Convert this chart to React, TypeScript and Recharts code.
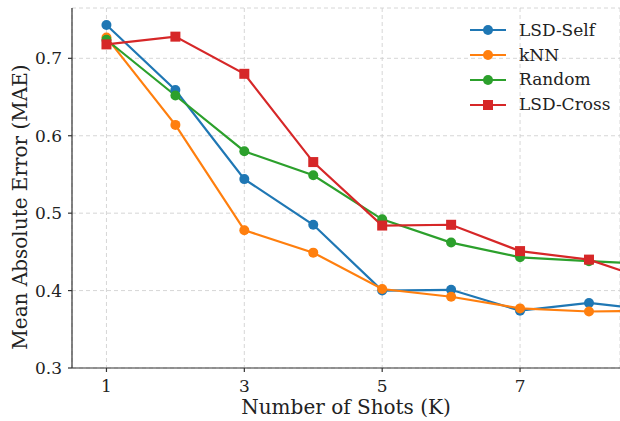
import { LineChart, Line, XAxis, YAxis, CartesianGrid } from "recharts";

const shots = [1, 2, 3, 4, 5, 6, 7, 8, 9];
const lsdSelf = [0.743, 0.659, 0.544, 0.485, 0.4, 0.401, 0.374, 0.384, 0.374];
const knn = [0.727, 0.614, 0.478, 0.449, 0.402, 0.392, 0.377, 0.373, 0.374];
const random = [0.724, 0.652, 0.58, 0.549, 0.492, 0.462, 0.443, 0.438, 0.434];
const lsdCross = [0.718, 0.728, 0.68, 0.566, 0.484, 0.485, 0.451, 0.44, 0.41];

const xTicks = [1, 3, 5, 7];
const yTicks = [0.3, 0.4, 0.5, 0.6, 0.7];

const FONT = "'DejaVu Serif', serif";

const series = [
  { key: "lsdSelf", name: "LSD-Self", color: "#1f77b4", square: false },
  { key: "knn", name: "kNN", color: "#ff7f0e", square: false },
  { key: "random", name: "Random", color: "#2ca02c", square: false },
  { key: "lsdCross", name: "LSD-Cross", color: "#d62728", square: true },
];

const data = shots.map((k, i) => ({
  k,
  lsdSelf: lsdSelf[i],
  knn: knn[i],
  random: random[i],
  lsdCross: lsdCross[i],
}));

function Marker(props: any) {
  const { cx, cy, square, color } = props;
  if (cx == null || cy == null) return null;
  if (square) {
    return <rect x={cx - 5} y={cy - 5} width={10} height={10} fill={color} />;
  }
  return <circle cx={cx} cy={cy} r={5} fill={color} />;
}

function LegendBox() {
  return (
    <div
      style={{
        position: "absolute",
        top: 18,
        left: 470,
        fontFamily: FONT,
        fontSize: 17,
        color: "#222",
        lineHeight: 1,
      }}
    >
      {series.map((s) => (
        <div key={s.key} style={{ display: "flex", alignItems: "center", height: 24.8 }}>
          <svg width={48} height={14} style={{ marginRight: 1 }}>
            <line x1={0} y1={7} x2={36} y2={7} stroke={s.color} strokeWidth={2.2} />
            {s.square ? (
              <rect x={13} y={2} width={10} height={10} fill={s.color} />
            ) : (
              <circle cx={18} cy={7} r={5} fill={s.color} />
            )}
          </svg>
          <span>{s.name}</span>
        </div>
      ))}
    </div>
  );
}

export default function App() {
  return (
    <div style={{ position: "absolute", left: 0, top: 0, width: 620, height: 421, background: "#fff" }}>
      <LineChart
        width={620}
        height={421}
        data={data}
        margin={{ top: 8, right: 0, left: 0, bottom: 0 }}
      >
        <CartesianGrid stroke="#cccccc" strokeDasharray="4 3" strokeWidth={0.8} />
        <XAxis
          dataKey="k"
          type="number"
          domain={[0.5, 8.45]}
          allowDataOverflow
          ticks={xTicks}
          height={53}
          tickSize={4}
          tickMargin={8}
          stroke="#333"
          strokeWidth={1.2}
          tick={{ fill: "#222", fontSize: 17, fontFamily: FONT }}
          label={(p: any) => {
            const vb = p.viewBox;
            return (
              <text
                x={vb.x + vb.width / 2}
                y={414}
                textAnchor="middle"
                fontSize={20}
                fontFamily={FONT}
                fill="#222"
              >
                Number of Shots (K)
              </text>
            );
          }}
        />
        <XAxis
          xAxisId="top"
          orientation="top"
          type="number"
          domain={[0.5, 8.45]}
          height={0}
          tick={false}
          tickLine={false}
          stroke="#222"
          strokeWidth={1.2}
        />
        <YAxis
          type="number"
          domain={[0.3, 0.765]}
          allowDataOverflow
          ticks={yTicks}
          width={72}
          tickSize={4}
          tickMargin={6}
          stroke="#333"
          strokeWidth={1.2}
          tick={{ fill: "#222", fontSize: 17, fontFamily: FONT }}
          label={() => (
            <text
              x={27}
              y={207}
              transform="rotate(-90 27 207)"
              textAnchor="middle"
              fontSize={20}
              fontFamily={FONT}
              fill="#222"
            >
              Mean Absolute Error (MAE)
            </text>
          )}
        />
        {series.map((s) => (
          <Line
            key={s.key}
            dataKey={s.key}
            name={s.name}
            stroke={s.color}
            strokeWidth={2.2}
            dot={(p: any) => <Marker key={`${s.key}-${p.index}`} {...p} square={s.square} color={s.color} />}
            activeDot={false}
            isAnimationActive={false}
          />
        ))}
      </LineChart>
      <LegendBox />
    </div>
  );
}
